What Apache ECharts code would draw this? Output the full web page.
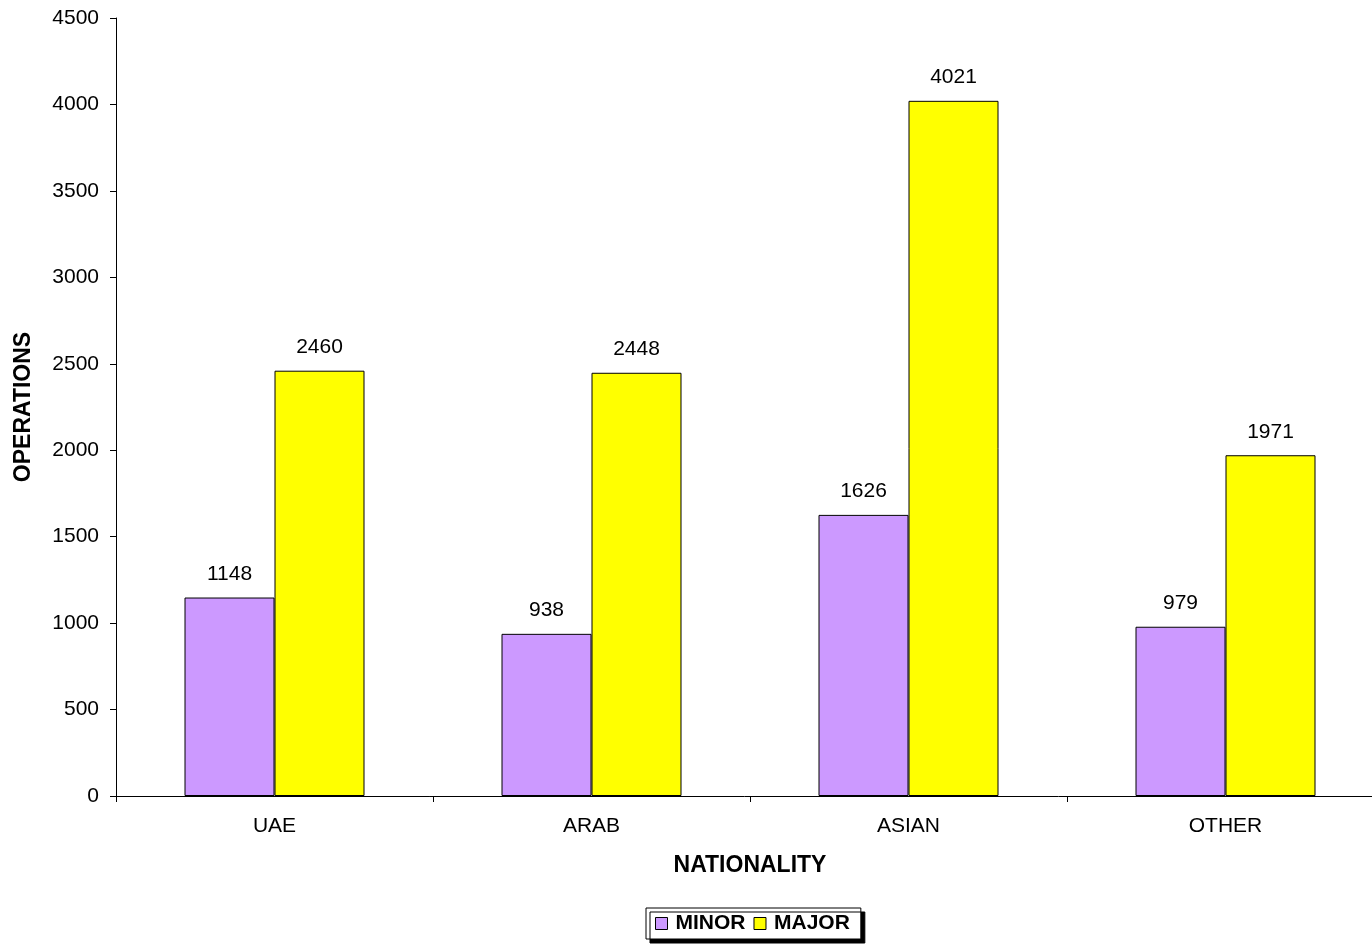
<!DOCTYPE html>
<html>
<head>
<meta charset="utf-8">
<script src="https://cdn.jsdelivr.net/npm/echarts@6/dist/echarts.min.js"></script>
<style>
html,body{margin:0;padding:0;background:#fff;}
#chart{width:1372px;height:948px;}
</style>
</head>
<body>
<div id="chart"></div>
<script>
var categories = ['UAE', 'ARAB', 'ASIAN', 'OTHER'];
var minorValues = [1148, 938, 1626, 979];
var majorValues = [2460, 2448, 4021, 1971];
var seriesNames = ['MINOR', 'MAJOR'];

var font = '"Liberation Sans", Arial, sans-serif';
var chart = echarts.init(document.getElementById('chart'));
chart.setOption({
  backgroundColor: '#ffffff',
  animation: false,
  grid: { left: 116, width: 1268, top: 18, height: 778, containLabel: false, outerBoundsMode: 'none' },
  legend: {
    left: 646, top: 908,
    padding: [5, 11, 5, 9],
    itemWidth: 12, itemHeight: 12, itemGap: 8,
    backgroundColor: '#ffffff',
    borderColor: '#000', borderWidth: 1, borderRadius: 0,
    shadowColor: '#000', shadowBlur: 0, shadowOffsetX: 4, shadowOffsetY: 4,
    textStyle: { fontFamily: font, fontWeight: 'bold', fontSize: 21, color: '#000', padding: [0,0,0,3] },
    data: [
      { name: seriesNames[0], icon: 'rect', itemStyle: { borderColor: '#000', borderWidth: 1 } },
      { name: seriesNames[1], icon: 'rect', itemStyle: { borderColor: '#000', borderWidth: 1 } }
    ]
  },
  xAxis: {
    type: 'category',
    data: categories,
    name: 'NATIONALITY',
    nameLocation: 'middle',
    nameGap: 58,
    nameTextStyle: { fontFamily: font, fontWeight: 'bold', fontSize: 23, color: '#000' },
    axisLine: { lineStyle: { color: '#000', width: 1 } },
    axisTick: { show: true, length: 6, lineStyle: { color: '#000' } },
    axisLabel: { fontFamily: font, fontSize: 21, color: '#000', margin: 20 },
    splitLine: { show: false }
  },
  yAxis: {
    type: 'value',
    min: 0, max: 4500, interval: 500,
    name: 'OPERATIONS',
    nameLocation: 'middle',
    nameGap: 81,
    nameRotate: 90,
    nameTextStyle: { fontFamily: font, fontWeight: 'bold', fontSize: 23, color: '#000' },
    axisLine: { show: true, lineStyle: { color: '#000', width: 1 } },
    axisTick: { show: true, length: 6, lineStyle: { color: '#000' } },
    axisLabel: { fontFamily: font, fontSize: 21, color: '#000', margin: 17, formatter: function (v) { return String(v); } },
    splitLine: { show: false }
  },
  series: [
    {
      name: seriesNames[0], type: 'bar', data: minorValues,
      barWidth: 90, barGap: '0%',
      itemStyle: { color: '#cc99ff', borderColor: '#000', borderWidth: 1 },
      label: { show: true, position: 'top', distance: 13, fontFamily: font, fontSize: 21, color: '#000' }
    },
    {
      name: seriesNames[1], type: 'bar', data: majorValues,
      barWidth: 90, barGap: '0%',
      itemStyle: { color: '#ffff00', borderColor: '#000', borderWidth: 1 },
      label: { show: true, position: 'top', distance: 13, fontFamily: font, fontSize: 21, color: '#000' }
    }
  ]
});
</script>
</body>
</html>
